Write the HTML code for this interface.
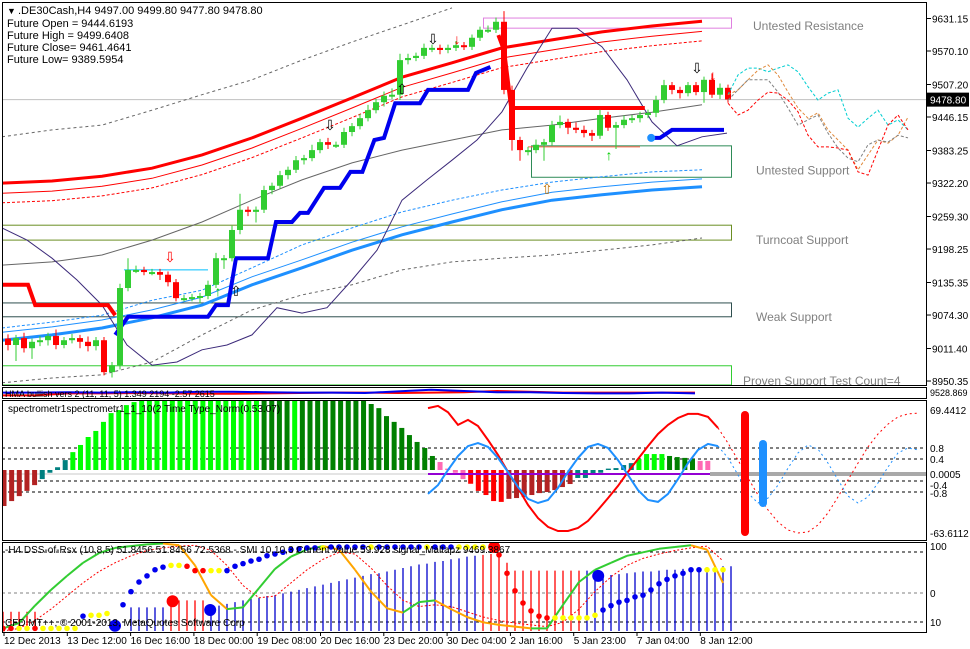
<!DOCTYPE html>
<html><head><meta charset="utf-8">
<style>
html,body{margin:0;padding:0;background:#fff;}
svg{display:block;font-family:"Liberation Sans",sans-serif;}
text{font-size:11px;}
</style></head>
<body>
<svg id="chart" width="970" height="649" viewBox="0 0 970 649" xmlns="http://www.w3.org/2000/svg">
<rect x="0" y="0" width="970" height="649" fill="#fff"/>
<defs>
<clipPath id="cMain"><rect x="2" y="2" width="924" height="383"/></clipPath>
<clipPath id="cP2"><rect x="2" y="401" width="924" height="139"/></clipPath>
<clipPath id="cP3"><rect x="2" y="543" width="924" height="89"/></clipPath>
</defs>
<g id="main" clip-path="url(#cMain)"></g>
<g id="p1"></g>
<g id="p2" clip-path="url(#cP2)"></g>
<g id="p3" clip-path="url(#cP3)"></g>
<g id="frames" fill="none" stroke="#000" stroke-width="1">
<rect x="2.5" y="2.5" width="924" height="383"/>
<rect x="2.5" y="387.5" width="924" height="11"/>
<rect x="2.5" y="400.5" width="924" height="140"/>
<rect x="2.5" y="542.5" width="924" height="90"/>
</g>
<g id="axes"></g>
<g id="labels"></g>
</svg>
<script>
// ---------- main price data ----------
const closes=[9018,9031,9012,9024,9027,9035,9018,9027,9031,9024,9016,9027,8967,8980,9125,9159,9159,9155,9155,9150,9136,9106,9106,9108,9110,9131,9181,9181,9234,9272,9268,9272,9309,9317,9337,9347,9365,9369,9384,9399,9394,9394,9418,9429,9444,9459,9474,9486,9488,9553,9557,9561,9576,9576,9572,9576,9581,9578,9595,9610,9610,9625,9497,9403,9384,9384,9394,9399,9431,9437,9426,9422,9416,9411,9450,9426,9431,9441,9444,9450,9454,9478,9506,9497,9491,9506,9493,9516,9488,9501,9479];
const firstOpen=9030;
const wickHi=[8,6,10,6,8,6,12,6,8,6,10,6,6,6,8,22,8,6,6,6,6,6,6,6,6,8,10,6,8,30,6,6,8,6,8,6,8,6,10,6,8,6,8,6,8,10,6,8,12,12,8,6,8,6,6,6,8,6,6,6,8,8,20,8,6,6,10,6,8,12,6,10,8,6,10,6,6,8,6,6,6,8,10,6,6,6,6,6,12,8,6];
const wickLo=[10,30,8,20,8,10,8,6,6,12,10,8,6,10,8,6,6,6,6,10,8,6,6,6,12,6,6,20,6,8,8,20,6,8,6,8,6,8,6,6,8,6,6,8,6,6,6,8,6,10,8,6,6,8,8,6,6,6,6,6,6,6,8,20,20,10,6,30,6,6,12,6,8,10,6,6,40,6,6,8,6,8,6,8,10,6,6,20,6,8,6];
const maRedThick=[9322,9326,9335,9350,9375,9407,9444,9482,9521,9548,9576,9591,9606,9617,9626];
const maRedThin=[9303,9307,9316,9331,9356,9388,9425,9463,9502,9529,9557,9572,9587,9598,9607];
const maRedDash=[9285,9289,9298,9313,9338,9370,9407,9445,9484,9511,9539,9554,9569,9580,9589];
const maGrey=[9168,9174,9187,9215,9249,9290,9328,9360,9384,9403,9422,9431,9444,9455,9469];
const bandUpper=[9409,9422,9431,9459,9488,9516,9553,9587,9619,9651];
const bandLower=[8947,8956,8962,8986,9037,9084,9112,9131,9159,9174,9181,9187,9196,9206,9219];
const maBlueThick=[9027,9037,9050,9069,9093,9131,9163,9196,9225,9249,9272,9290,9300,9309,9315];
const maBlueThin=[9042,9052,9065,9084,9108,9146,9178,9211,9240,9264,9287,9305,9315,9324,9330];
const maBlueDash=[9050,9061,9074,9102,9121,9163,9206,9238,9268,9290,9309,9324,9334,9343,9347];
const purpleCurve=[9238,9215,9181,9140,9093,9018,8980,8986,9009,9018,9037,9088,9078,9088,9140,9196,9290,9328,9365,9403,9456,9538,9613,9613,9578,9516,9437,9392,9409,9416];
const blueStep=[[13.4,9037],[15,9071],[25,9071],[26,9093],[27.5,9093],[28.5,9181],[32.5,9181],[33.5,9249],[35.5,9249],[36.5,9266],[37.5,9266],[39.5,9313],[41.5,9313],[42.8,9343],[44.3,9343],[45.8,9403],[47,9407],[48.4,9472],[51.5,9472],[52.5,9497],[57.5,9497],[58.5,9529],[60.3,9540]];
const blueStep2=[[80.3,9407],[81.5,9407],[83,9422],[89.5,9422]];
const redStep=[[-1,9131],[2.5,9131],[3.4,9093],[12.5,9093],[13.4,9074]];
const redStep2=[[61.3,9600],[62,9572],[62.9,9463],[79.6,9463]];
const fcCyan=[9488,9525,9538,9538,9531,9538,9544,9531,9503,9478,9491,9497,9444,9427,9444,9459,9431,9441,9422];
const fcOrange=[9488,9497,9516,9534,9544,9525,9493,9463,9444,9454,9422,9403,9384,9347,9375,9403,9397,9412,9446];
const fcGrey=[9478,9497,9516,9516,9516,9493,9463,9431,9441,9450,9416,9388,9369,9362,9394,9403,9399,9412,9407];
const fcRed=[9472,9450,9459,9478,9493,9491,9478,9456,9412,9390,9390,9388,9384,9343,9337,9384,9431,9450,9422];
const priceTicks=[9631.15,9570.10,9507.20,9446.15,9383.25,9322.20,9259.30,9198.25,9135.35,9074.30,9011.40,8950.35];
const lastPrice=9478.80;
// zones [top, bottom, name, label, color, labelPrice]
const zones=[[9632,9613,'untested-resistance','Untested Resistance','#e080e0',9610],[9392,9333,'untested-support','Untested Support','#2e8b57',9338],[9243,9215,'turncoat-support','Turncoat Support','#6b8e23',9208],[9097,9071,'weak-support','Weak Support','#2f4f4f',9063],[8979,8943,'proven-support','Proven Support  Test Count=4','#32cd32',8943]];
const timeLabels=['12 Dec 2013','13 Dec 12:00','16 Dec 16:00','18 Dec 00:00','19 Dec 08:00','20 Dec 16:00','23 Dec 20:00','30 Dec 04:00','2 Jan 16:00','5 Jan 23:00','7 Jan 04:00','8 Jan 12:00'];

// ---------- spectrometer panel ----------
const histVals=[-1.31,-1.13,-0.95,-0.76,-0.55,-0.33,-0.1,0.1,0.36,0.65,0.91,1.2,1.42,1.75,2.07,2.18,2.36,2.47,2.6,2.6,2.6,2.6,2.6,2.6,2.6,2.6,2.6,2.6,2.6,2.6,2.6,2.6,2.6,2.6,2.6,2.6,2.6,2.6,2.6,2.6,2.6,2.6,2.6,2.6,2.6,2.6,2.6,2.6,2.4,2.25,1.96,1.75,1.53,1.27,1.02,0.8,0.51,0.29,0.05,-0.1,-0.33,-0.5,-0.76,-0.91,-1.13,-1.16,-1.05,-1.02,-0.98,-0.91,-0.84,-0.8,-0.73,-0.62,-0.51,-0.29,-0.29,-0.18,-0.1,0.05,0.07,0.18,0.25,0.4,0.58,0.58,0.58,0.51,0.47,0.44,0.4,0.33,0.33];
const histKinds="RRRRRTTTTLLLLLLLLLLLLLLLLLLLLLLLLLGGGGLGGGGGGGGGGGGGGGGGGPPPPEEEEERRRRRRRRRTTTTTTTTLLLLGGGGPP";
const specRed=[2.25,2.33,2.1,1.64,1.82,1.6,1.09,0.55,-0.07,-0.65,-1.27,-1.75,-2.07,-2.22,-2.22,-2.11,-1.85,-1.45,-1.02,-0.58,-0.07,0.4,0.87,1.31,1.64,1.89,2.04,2.04,1.93,1.53,0.98,0.36,-0.29,-0.91,-1.45,-1.89,-2.18,-2.29,-2.25,-2.0,-1.56,-0.98,-0.36,0.25,0.84,1.31,1.67,1.93,2.04,2.07];
const specBlue=[-0.87,-0.55,0,0.51,0.87,0.98,0.84,0.44,-0.07,-0.62,-1.05,-1.2,-1.09,-0.65,-0.07,0.44,0.84,0.95,0.8,0.36,-0.18,-0.73,-1.09,-1.16,-0.87,-0.33,0.25,0.73,0.95,0.87,0.44,-0.18,-0.84,-1.2,-1.02,-0.55,0.07,0.62,0.91,0.76,0.25,-0.36,-0.95,-1.2,-0.98,-0.47,0.11,0.62,0.8,0.73];
const specLevels=[0.8,0.4,-0.4,-0.8];
const specTickLabels=['69.4412','0.8','0.4','0.0005','-0.4','-0.8','-63.6112'];

// ---------- DSS panel ----------
const dssBars=[22,22,22,22,22,0,0,0,0,0,0,0,0,0,0,0,27,27,27,27,27,35,35,35,35,35,27,29,31,33,35,37,38,40,41,43,45,47,49,51,53,55,57,59,61,63,65,66,68,70,72,74,76,77,79,80,82,83,85,86,87,88,90,78,69,69,69,69,69,69,69,69,69,69,69,63,64,65,66,67,68,68,69,70,70,71,72,72,73,73,74,74];
const dssBarKinds="RRRRRRRRRRRRRRRRBBBBBRRRRRBBBBBBBBBBBBBBBBBBBBBBBBBBBBBBBBBBRRRRRRRRRRRRRBBBBBBBBBBBBBBBBBBB";
const dssLine=[3,9,29,47,63,78,89,95,97,99,100,98,75,41,25,27,49,71,85,93,97,93,70,45,26,21,33,35,25,16,10,7,5,3,3,30,56,70,78,86,90,94,96,98,93,55];
const dssSignal=[0,3,12,25,40,55,68,78,86,92,95,97,98,92,75,52,38,40,55,70,82,90,88,72,52,35,28,30,28,22,16,12,9,7,5,10,25,45,62,75,83,88,92,95,97,80];
const smiDots=[3,3,3,3,3,3,3,3,3,3,17,18,18,20,6,30,45,56,63,70,73,75,75,74,69,69,69,69,69,74,77,80,82,86,88,90,93,94,95,95,95,96,96,96,96,96,96,96,96,96,96,96,96,96,96,96,96,96,96,96,96,96,87,66,46,32,23,17,15,15,15,15,15,15,18,24,29,33,35,39,41,47,54,59,63,66,70,70,70,70,70];
const smiDotKinds="RRYYRYYYYYBYYYBBBBBBBYYRRRYYBBBBBBBBBBBBYBBBBBYBBBBBBYBBBYYYYYRRRRRRRYYYYYYBBBBBBBBBBBBBYYY";
const bigDots=[[14,6,'B'],[21.2,34,'R'],[25.9,24,'B'],[61.4,96,'R'],[74.4,63,'B']];
const hmaRed=[0.8,0.8,0.55,0.55,0.5,0.55,0.6,0.6,0.55,0.5,0.45,0.45,0.5,0.45,0.4,0.25,0.35,0.45,0.45,0.45,0.45,0.45];
const hmaBlue=[0.45,0.45,0.4,0.45,0.4,0.45,0.35,0.35,0.4,0.45,0.45,0.5,0.3,0.1,0.25,0.4,0.4,0.5,0.55,0.55,0.45,0.55];

// ---------- helpers ----------
const NS='http://www.w3.org/2000/svg';
function mk(parent,tag,attrs){const e=document.createElementNS(NS,tag);for(const k in attrs)e.setAttribute(k,attrs[k]);parent.appendChild(e);return e;}
const yP=p=>18.5+(9631.15-p)*0.5325;
const xB=i=>8+8*i;
const xS=k=>2+50*k;
const y2=v=>470-v*27.5;
const y3=v=>631-v*0.875;
const main=document.getElementById('main');
const p1=document.getElementById('p1');
const p2=document.getElementById('p2');
const p3=document.getElementById('p3');
const axes=document.getElementById('axes');
const labels=document.getElementById('labels');
function poly(parent,pts,stroke,w,dash,name){
  const l=mk(parent,'polyline',{points:pts.map(p=>p[0].toFixed(1)+','+p[1].toFixed(1)).join(' '),fill:'none',stroke:stroke,'stroke-width':w});
  if(dash)l.setAttribute('stroke-dasharray',dash);
  
  
  return l;
}
function txt(parent,x,y,s,fill,size,name,anchor){
  const t=mk(parent,'text',{x:x,y:y,fill:fill});
  t.style.fontSize=size+'px';
  if(anchor)t.setAttribute('text-anchor',anchor);
  t.textContent=s;
  
  
  return t;
}

// ---------- main panel ----------
zones.forEach(z=>{
  const r=mk(main,'rect',{x:z[2]==='untested-resistance'?483.5:(z[2]==='untested-support'?531.5:2.5),y:yP(z[0]),width:z[2]==='untested-resistance'?248:(z[2]==='untested-support'?200:729),height:yP(z[1])-yP(z[0]),fill:'none',stroke:z[4],'stroke-width':1});
  
  
  txt(main,z[2]==='proven-support'?743:(z[2]==='untested-resistance'?753:756),yP(z[5]),z[3],'#808080',12,z[2]+'-label');
});
const cpl=mk(main,'line',{x1:2,x2:927,y1:yP(lastPrice),y2:yP(lastPrice),stroke:'#c0c0c0','stroke-width':1});


poly(main,bandUpper.map((p,k)=>[xS(k),yP(p)]),'#666',1,'3,3','upper-envelope');
poly(main,bandLower.map((p,k)=>[xS(k),yP(p)]),'#666',1,'3,3','lower-envelope');
poly(main,maGrey.map((p,k)=>[xS(k),yP(p)]),'#666',1,null,'grey-ma');
poly(main,maBlueDash.map((p,k)=>[xS(k),yP(p)]),'#1e90ff',1,'3,2','blue-ma-dashed');
poly(main,maBlueThin.map((p,k)=>[xS(k),yP(p)]),'#1e90ff',1,null,'blue-ma-thin');
poly(main,maBlueThick.map((p,k)=>[xS(k),yP(p)]),'#1e90ff',3,null,'blue-ma-thick');
poly(main,maRedDash.map((p,k)=>[xS(k),yP(p)]),'#f00',1,'3,2','red-ma-dashed');
poly(main,maRedThin.map((p,k)=>[xS(k),yP(p)]),'#f00',1,null,'red-ma-thin');
poly(main,maRedThick.map((p,k)=>[xS(k),yP(p)]),'#f00',3,null,'red-ma-thick');
poly(main,purpleCurve.map((p,k)=>[2+25*k,yP(p)]),'#3c2a7a',1,null,'bollinger-curve');
poly(main,redStep.map(s=>[xB(s[0]),yP(s[1])]),'#f00',4,null,'red-step-line');
poly(main,redStep2.map(s=>[xB(s[0]),yP(s[1])]),'#f00',4,null,'red-step-line-2');
poly(main,blueStep.map(s=>[xB(s[0]),yP(s[1])]),'#0000ee',4,null,'blue-step-line');
poly(main,blueStep2.map(s=>[xB(s[0]),yP(s[1])]),'#0000ee',4,null,'blue-step-line-2');
const bdot=mk(main,'circle',{cx:xB(80.4),cy:yP(9407),r:4,fill:'#1e90ff'});


poly(main,[[xB(14.5),yP(9159)],[xB(25),yP(9159)]],'#00bfff',1,null,'cyan-level');
poly(main,[[xB(65),yP(9390)],[xB(79),yP(9390)]],'#ff6347',1,null,'red-level');
let prev=firstOpen;
closes.forEach((c,i)=>{
  const o=prev;prev=c;
  const up=c>=o;const col=up?'#32cd32':'#f00';
  const hi=Math.max(o,c)+wickHi[i], lo=Math.min(o,c)-wickLo[i];
  const w=mk(main,'line',{x1:xB(i),x2:xB(i),y1:yP(hi),y2:yP(lo),stroke:col,'stroke-width':1});
  
  
  const top=yP(Math.max(o,c)), h=Math.max(2,yP(Math.min(o,c))-top);
  const b=mk(main,'rect',{x:xB(i)-3,y:top,width:6,height:h,fill:col});
  
  
});
[[fcCyan,'#00ced1','forecast-cyan'],[fcOrange,'#e08a3c','forecast-orange'],[fcGrey,'#808080','forecast-grey'],[fcRed,'#f00','forecast-red']].forEach(f=>{
  poly(main,f[0].map((p,k)=>[xB(90)+10*k,yP(p)]),f[1],1,'3,2',f[2]);
});
[[170,262,'⇩','#f00','down-arrow'],[330,130,'⇩','#000','down-arrow'],[433,44,'⇩','#000','down-arrow'],[457,44,'↓','#f00','down-arrow'],[697,73,'⇩','#000','down-arrow'],[713,80,'↓','#f00','down-arrow'],[402,94,'⇧','#000','up-arrow'],[547,194,'⇧','#c07000','up-arrow'],[218,296,'↑','#0c0','up-arrow'],[609,160,'↑','#0c0','up-arrow'],[236,296,'⇧','#000','up-arrow']].forEach(a=>{
  txt(main,a[0],a[1],a[2],a[3],14,a[4],'middle');
});
txt(labels,7,14,'▼','#000',9,'collapse-icon');
txt(labels,18,14,'.DE30Cash,H4  9497.00 9499.80 9477.80 9478.80','#000',11,'symbol-header');
txt(labels,7,27,'Future Open = 9444.6193','#000',11,'future-open');
txt(labels,7,39,'Future High = 9499.6408','#000',11,'future-high');
txt(labels,7,51,'Future Close= 9461.4641','#000',11,'future-close');
txt(labels,7,63,'Future Low= 9389.5954','#000',11,'future-low');
priceTicks.forEach(p=>{
  const y=yP(p);
  const tk=mk(axes,'line',{x1:927,x2:931,y1:y,y2:y,stroke:'#000'});
  
  
  txt(axes,932,y+4,p.toFixed(2),'#000',10,'price-tick-label');
});
const pb=mk(axes,'rect',{x:927,y:yP(lastPrice)-7,width:42,height:14,fill:'#000'});


txt(axes,930,yP(lastPrice)+4,lastPrice.toFixed(2),'#fff',10,'last-price-label');

// ---------- panel 1 (HMA) ----------
poly(p1,hmaRed.map((v,k)=>[2+33*k,389+v*8]),'#f00',2,null,'hma-red-line');
poly(p1,hmaBlue.map((v,k)=>[2+33*k,389+v*8]),'#0000ee',2,null,'hma-blue-line');
txt(p1,5,397,'HMA bullish vers 2 (11, 11, 5) 1.349 2194 -2.57 2615','#000',9,'hma-label');
txt(axes,930,396,'9528.869','#000',9,'hma-axis-label');

// ---------- panel 2 (spectrometer) ----------
specLevels.forEach(v=>{
  const l=mk(p2,'line',{x1:2,x2:926,y1:y2(v),y2:y2(v),stroke:'#000','stroke-dasharray':'3,3'});
  
  
});
const zl=mk(p2,'line',{x1:2,x2:428,y1:474,y2:474,stroke:'#c8c8c8','stroke-width':1});


const gl=mk(p2,'line',{x1:710,x2:926,y1:474,y2:474,stroke:'#a9a9a9','stroke-width':4});


const kindCol={R:'#b22222',T:'#008080',L:'#00ff00',G:'#008000',P:'#ff69b4',E:'#ff0000',B:'#0000ee',Y:'#ffff00'};
const barCol={R:'#ff0000',B:'#0000cc'};
const dotCol={R:'#ff0000',B:'#0000ee',Y:'#ffff00'};
histVals.forEach((v,i)=>{
  const x=4+7.65*i;const y0=y2(0),y1=y2(v);
  const r=mk(p2,'rect',{x:x-2.5,y:Math.min(y0,y1),width:5,height:Math.max(1,Math.abs(y1-y0)),fill:kindCol[histKinds[i]]});
  
  
});
const pl=mk(p2,'line',{x1:428,x2:710,y1:474,y2:474,stroke:'#9400d3','stroke-width':2});


poly(p2,specRed.slice(0,30).map((v,k)=>[428+10*k,y2(v)]),'#f00',2,null,'spectrum-red-wave');
poly(p2,specRed.slice(29).map((v,k)=>[718+10*k,y2(v)]),'#f00',1,'2,3','spectrum-red-forecast');
poly(p2,specBlue.slice(0,30).map((v,k)=>[428+10*k,y2(v)]),'#1e90ff',2,null,'spectrum-blue-wave');
poly(p2,specBlue.slice(29).map((v,k)=>[718+10*k,y2(v)]),'#1e90ff',1,'2,3','spectrum-blue-forecast');
const rb=mk(p2,'rect',{x:741,y:411,width:8,height:125,rx:4,fill:'#f00'});


const bb=mk(p2,'rect',{x:759,y:440,width:8,height:67,rx:4,fill:'#1e90ff'});


txt(p2,8,412,'spectrometr1spectrometr1_1_10(2 Time Type_Norm(0.53.07)','#000',10,'spectrometer-label');
const sY=[410,448,459,474,485,493,533];
specTickLabels.forEach((s,k)=>txt(axes,930,sY[k]+4,s,'#000',10,'spectrometer-tick-label'));

// ---------- panel 3 (DSS) ----------
[[552,'#000'],[593,'#808080'],[622,'#000']].forEach(l=>{
  const e=mk(p3,'line',{x1:2,x2:926,y1:l[0],y2:l[0],stroke:l[1],'stroke-dasharray':'3,3'});
  
  
});
dssBars.forEach((v,i)=>{
  if(!v)return;
  const x=3+8*i;
  const l=mk(p3,'line',{x1:x,x2:x,y1:631,y2:y3(v),stroke:barCol[dssBarKinds[i]],'stroke-width':1.3});
  
  
});
poly(p3,dssSignal.map((v,k)=>[3+16*k,y3(v)]),'#f00',1,'2,2','dss-signal-line');
for(let k=1;k<dssLine.length;k++){
  const up=dssLine[k]>=dssLine[k-1];
  poly(p3,[[3+16*(k-1),y3(dssLine[k-1])],[3+16*k,y3(dssLine[k])]],up?'#32cd32':'#ffa500',2,null,'dss-line-segment');
}
smiDots.forEach((v,i)=>{
  const c=mk(p3,'circle',{cx:3+8*i,cy:y3(v),r:2.8,fill:dotCol[smiDotKinds[i]]});
  
  
});
bigDots.forEach(d=>{
  const c=mk(p3,'circle',{cx:3+8*d[0],cy:y3(d[1]),r:6,fill:dotCol[d[2]]});
  
  
});
txt(p3,5,553,'-H4 DSS-of-Rsx (10,8,5) 51.8456 51.8456 72.5368 - SMI 10,10,3 Current Value 59.928 signal_Maltapz 9469.3867','#000',10,'dss-label');
txt(p3,5,626,'CFD MT++, © 2001-2013, MetaQuotes Software Corp','#000',10,'copyright-label');
[['100',550],['0',597],['10',626]].forEach(a=>txt(axes,930,a[1],a[0],'#000',10,'dss-tick-label'));

// ---------- time axis ----------
timeLabels.forEach((s,k)=>{
  const x=4+63.3*k;
  const tk=mk(axes,'line',{x1:x,x2:x,y1:632,y2:636,stroke:'#000'});
  
  
  txt(axes,x,644,s,'#000',10,'time-tick-label');
});
</script>
</body></html>
